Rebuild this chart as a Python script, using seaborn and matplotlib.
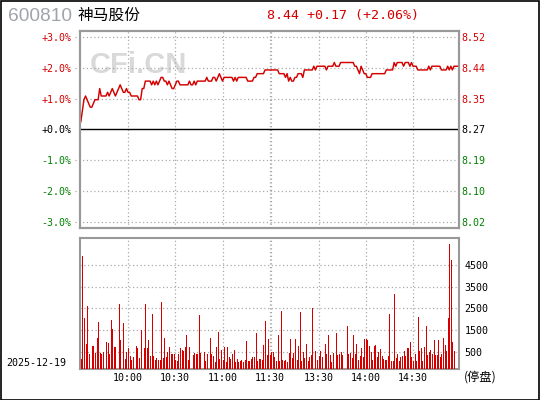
import numpy as np
import pandas as pd
import matplotlib
matplotlib.use("Agg")
import matplotlib.pyplot as plt
from matplotlib.patches import Rectangle
import seaborn as sns

# ---------------- data ----------------
stock_code = "600810"
stock_name = "神马股份"
quote_text = "8.44 +0.17 (+2.06%)"
date_label = "2025-12-19"
halt_label = "(停盘)"
watermark = "CFi.CN"
prev_close = 8.27

pct_ticks = [3, 2, 1, 0, -1, -2, -3]
pct_labels = ["+3.0%", "+2.0%", "+1.0%", "+0.0%", "-1.0%", "-2.0%", "-3.0%"]
price_labels = ["8.52", "8.44", "8.35", "8.27", "8.19", "8.10", "8.02"]

time_pos = [30, 60, 90, 120, 151, 181, 211]
time_labels = ["10:00", "10:30", "11:00", "11:30", "13:30", "14:00", "14:30"]
grid_minutes = [30, 60, 90, 120, 121, 151, 181, 211]

vol_ticks = [500, 1500, 2500, 3500, 4500]
vol_labels = ["500", "1500", "2500", "3500", "4500"]

price = [
    8.29, 8.32, 8.35, 8.36, 8.35, 8.34, 8.33, 8.33, 8.34, 8.35,
    8.35, 8.35, 8.38, 8.36, 8.36, 8.36, 8.36, 8.37, 8.36, 8.37,
    8.38, 8.37, 8.36, 8.37, 8.38, 8.39, 8.38, 8.37, 8.37, 8.38,
    8.37, 8.37, 8.36, 8.36, 8.36, 8.36, 8.36, 8.35, 8.35, 8.38,
    8.38, 8.40, 8.40, 8.40, 8.40, 8.39, 8.40, 8.39, 8.40, 8.39,
    8.40, 8.41, 8.41, 8.40, 8.40, 8.39, 8.40, 8.39, 8.38, 8.38,
    8.39, 8.40, 8.40, 8.39, 8.39, 8.39, 8.39, 8.39, 8.39, 8.40,
    8.39, 8.39, 8.40, 8.39, 8.40, 8.40, 8.40, 8.40, 8.40, 8.40,
    8.41, 8.40, 8.40, 8.40, 8.41, 8.41, 8.40, 8.41, 8.42, 8.41,
    8.40, 8.41, 8.41, 8.41, 8.41, 8.41, 8.41, 8.40, 8.41, 8.40,
    8.41, 8.41, 8.41, 8.41, 8.41, 8.41, 8.40, 8.40, 8.40, 8.40,
    8.41, 8.41, 8.42, 8.42, 8.42, 8.42, 8.42, 8.43, 8.43, 8.43,
    8.43, 8.43, 8.43, 8.43, 8.43, 8.43, 8.42, 8.42, 8.42, 8.42,
    8.41, 8.42, 8.40, 8.41, 8.40, 8.40, 8.41, 8.41, 8.42, 8.42,
    8.42, 8.41, 8.43, 8.43, 8.43, 8.43, 8.43, 8.43, 8.44, 8.43,
    8.44, 8.44, 8.44, 8.44, 8.44, 8.44, 8.43, 8.44, 8.44, 8.44,
    8.44, 8.45, 8.44, 8.44, 8.44, 8.45, 8.45, 8.45, 8.45, 8.45,
    8.45, 8.45, 8.45, 8.45, 8.44, 8.44, 8.43, 8.42, 8.44, 8.43,
    8.42, 8.42, 8.41, 8.41, 8.41, 8.42, 8.42, 8.42, 8.42, 8.42,
    8.42, 8.42, 8.42, 8.42, 8.43, 8.43, 8.43, 8.43, 8.43, 8.45,
    8.44, 8.45, 8.45, 8.45, 8.45, 8.44, 8.45, 8.45, 8.45, 8.44,
    8.45, 8.44, 8.44, 8.44, 8.43, 8.43, 8.43, 8.43, 8.43, 8.43,
    8.43, 8.44, 8.43, 8.44, 8.44, 8.44, 8.44, 8.44, 8.44, 8.43,
    8.43, 8.43, 8.43, 8.44, 8.43, 8.44, 8.43, 8.44, 8.44, 8.44,
    8.44,
]

volume = [
    190, 4930, 2080, 880, 2630, 420, 0, 790, 790, 450,
    1160, 1890, 450, 390, 480, 0, 975, 910, 420, 1990,
    1570, 750, 750, 0, 2720, 1070, 0, 1850, 190, 480,
    700, 330, 150, 285, 0, 790, 700, 240, 1530, 0,
    700, 2720, 700, 1070, 330, 2260, 330, 150, 240, 150,
    150, 2810, 240, 1160, 290, 515, 750, 420, 420, 420,
    150, 100, 420, 700, 600, 560, 750, 1300, 150, 750,
    0, 380, 470, 420, 420, 2220, 470, 0, 515, 100,
    420, 0, 1160, 420, 330, 55, 750, 1435, 190, 600,
    150, 750, 55, 750, 285, 190, 420, 600, 60, 190,
    40, 100, 150, 55, 150, 1020, 100, 100, 190, 285,
    285, 1390, 100, 190, 190, 150, 840, 1940, 380, 1110,
    380, 515, 515, 285, 100, 1300, 100,
    2400, 150, 100, 150, 55, 470, 1110, 240, 470, 1110,
    150, 790, 2360, 100, 515, 240, 880, 100, 285, 380,
    2540, 0, 560, 150, 330, 560, 285, 0, 880, 420,
    1300, 380, 55, 470, 0, 1390, 380, 420, 515, 380,
    0, 0, 1710, 420, 470, 240, 1300, 420, 880, 150,
    330, 700, 285, 1110, 1110, 1070, 790, 515, 150, 790,
    840, 285, 515, 650, 330, 190, 150, 150, 330, 2260,
    100, 100, 3180, 240, 420, 100, 285, 330, 560, 330,
    700, 700, 975, 285, 100, 420, 100, 2120, 560, 700,
    100, 750, 1710, 380, 515, 600, 420, 1070, 380, 380,
    1070, 285, 420, 1160, 840, 560, 2080, 5480, 4750, 975,
    560, 0, 0, 2260,
]

# ---------------- style ----------------
RED = "#d40000"
GREEN = "#008000"
FRAME = "#999999"
GRID = "#aaaaaa"
MONO = ["DejaVu Sans Mono", "Noto Sans CJK SC"]

sns.set_theme(style="white")
plt.rcParams["font.family"] = ["DejaVu Sans", "Noto Sans CJK SC"]
plt.rcParams["axes.unicode_minus"] = False

fig = plt.figure(figsize=(5.4, 4.0), dpi=100)
fig.patch.set_facecolor("white")

W, H = 540.0, 400.0
left, right = 80.0, 459.5
ax = fig.add_axes([left / W, 1 - 228 / H, (right - left) / W, (228 - 31) / H])
axv = fig.add_axes([left / W, 1 - 369 / H, (right - left) / W, (369 - 238) / H])

n = len(price)
minutes = np.arange(n)
df = pd.DataFrame({"minute": minutes, "price": price})
df["pct"] = (df["price"] / prev_close - 1.0) * 100.0

# ---------------- price panel ----------------
ax.set_xlim(-0.5, n - 0.5)
ax.set_ylim(-3.2, 3.2)
for y in pct_ticks:
    if y == 0:
        ax.axhline(0, color="black", lw=1.0, zorder=2)
    else:
        ax.axhline(y, xmin=-0.012, xmax=1, color=GRID, lw=0.9,
                   ls=(0, (1, 2)), clip_on=False, zorder=1)
for m in grid_minutes:
    ax.axvline(m, color=GRID, lw=0.9, ls=(0, (1, 2)), zorder=1)

sns.lineplot(data=df, x="minute", y="pct", ax=ax, color=RED, lw=1.05,
             zorder=3, legend=False)

ax.set_xlabel("")
ax.set_ylabel("")
ax.set_xticks([])
ax.set_yticks(pct_ticks)
ax.set_yticklabels(pct_labels, fontfamily=MONO, fontsize=7.2)
ax.tick_params(axis="y", length=0, pad=6)
for lab, v in zip(ax.get_yticklabels(), pct_ticks):
    lab.set_color(RED if v > 0 else (GREEN if v < 0 else "black"))

axr = ax.twinx()
axr.set_ylim(ax.get_ylim())
axr.set_yticks(pct_ticks)
axr.set_yticklabels(price_labels, fontfamily=MONO, fontsize=7.2)
axr.tick_params(axis="y", length=0, pad=1.5)
for lab, v in zip(axr.get_yticklabels(), pct_ticks):
    lab.set_color(RED if v > 0 else (GREEN if v < 0 else "black"))
axr.grid(False)

for a in (ax, axr):
    for s in a.spines.values():
        s.set_color(FRAME)
        s.set_linewidth(1.5)

ax.text(0.155, 0.825, watermark, transform=ax.transAxes, ha="center",
        va="center", fontsize=21, fontweight="bold",
        fontfamily="Liberation Sans", color="#d9d9d9", zorder=0)

# ---------------- volume panel ----------------
vfloor = -282
axv.set_xlim(-0.5, n - 0.5)
axv.set_ylim(vfloor, 5741)
for y in vol_ticks:
    axv.axhline(y, color=GRID, lw=0.9, ls=(0, (1, 2)), zorder=1)
for m in grid_minutes:
    axv.axvline(m, color=GRID, lw=0.9, ls=(0, (1, 2)), zorder=1)

vol = np.array(volume, dtype=float)
mask = vol > 0
axv.vlines(minutes[mask], vfloor, vol[mask], color=RED, lw=0.45,
           antialiased=False, zorder=3)

axv.set_xticks(time_pos)
axv.set_xticklabels(time_labels, fontfamily=MONO, fontsize=7.2, color="black")
axv.tick_params(axis="x", length=0, pad=3)
axv.yaxis.tick_right()
axv.set_yticks(vol_ticks)
axv.set_yticklabels(vol_labels, fontfamily=MONO, fontsize=7.2, color="black")
axv.tick_params(axis="y", length=0, pad=3.5)
for s in axv.spines.values():
    s.set_color(FRAME)
    s.set_linewidth(1.5)

# ---------------- texts ----------------
fig.text(8 / W, 1 - 16.5 / H, stock_code, fontsize=13.8, color="#a0a4aa",
         fontfamily="Liberation Sans", ha="left", va="center")
fig.text(77 / W, 1 - 15.5 / H, stock_name, fontsize=11.3, color="black",
         fontfamily="Noto Sans CJK SC", ha="left", va="center")
fig.text(267 / W, 1 - 15 / H, quote_text, fontsize=9.6, color=RED,
         fontfamily=MONO, ha="left", va="center")
fig.text(6 / W, 1 - 363.5 / H, date_label, fontsize=7.2, color="black",
         fontfamily=MONO, ha="left", va="center")
fig.text(464 / W, 1 - 377 / H, halt_label, fontsize=8.8, color="black",
         fontfamily=["Noto Sans CJK SC", "DejaVu Sans"], ha="left", va="center")

# outer black border
fig.add_artist(Rectangle((0.5 / W, 0.5 / H), 1 - 1.5 / W, 1 - 1.5 / H,
                         transform=fig.transFigure, fill=False,
                         edgecolor="black", lw=1.2))

fig.savefig("out.png", dpi=100, facecolor="white")
